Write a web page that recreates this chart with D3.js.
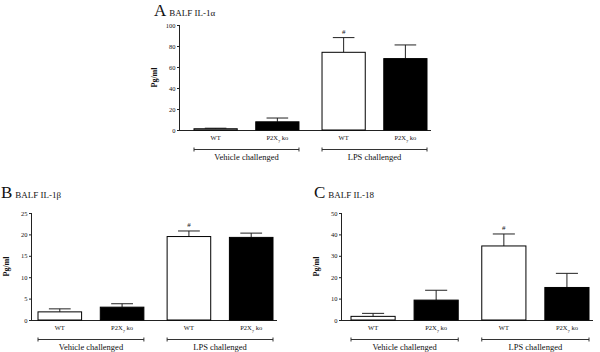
<!DOCTYPE html>
<html>
<head>
<meta charset="utf-8">
<script src="https://cdn.jsdelivr.net/npm/d3@7"></script>
<style>
  body { margin: 0; background: #fff; }
  text { font-family: "Liberation Serif", "DejaVu Serif", serif; fill: #111; }
</style>
</head>
<body>
<svg id="mainsvg" width="600" height="352"></svg>
<script>
// data
const groups = ['Vehicle challenged', 'LPS challenged'];
const genotypes = ['WT', 'P2X7 ko'];

const il1aMean = [1.2, 7.8, 74, 68];
const il1aSem = [0.5, 3.6, 14, 13];
const il1aTicks = [0, 20, 40, 60, 80, 100];

const il1bMean = [1.9, 3.0, 19.5, 19.3];
const il1bSem = [0.7, 0.8, 1.3, 1.0];
const il1bTicks = [0, 5, 10, 15, 20, 25];

const il18Mean = [1.7, 9.3, 34.6, 15.2];
const il18Sem = [1.4, 4.6, 5.6, 6.6];
const il18Ticks = [0, 10, 20, 30, 40, 50];

const svg = d3.select('#mainsvg');

function drawPanel(p){
    const g = svg.append('g');
    const yMax = p.ticks[p.ticks.length - 1];
    const y = d3.scaleLinear().domain([0, yMax]).range([p.y0, p.y1]);

    const xGroup = d3.scaleBand().domain(groups).range([p.x0, p.x1]).paddingInner(0.18);
    const xGeno = d3.scaleBand().domain(genotypes).range([0, xGroup.bandwidth()]).paddingInner(0.3);

    const rows = [];
    groups.forEach((gr, i) => genotypes.forEach((ge, j) => {
        const k = i * 2 + j;
        rows.push({group: gr, geno: ge, mean: p.mean[k], sem: p.sem[k]});
    }));

    // y axis
    const yAxis = g.append('g')
        .attr('transform', `translate(${p.ax},0)`)
        .call(d3.axisLeft(y).tickValues(p.ticks).tickSize(3).tickPadding(1.5));
    yAxis.select('.domain').attr('d', `M-0.5,${p.y0}V${p.y1}`).attr('stroke', '#222');
    yAxis.selectAll('.tick line').attr('stroke', '#222');
    yAxis.selectAll('.tick text')
        .style('font-family', '"Liberation Serif", serif')
        .style('font-size', '6.5px');

    // x axis baseline
    g.append('line')
        .attr('x1', p.ax).attr('x2', p.x1 + 4)
        .attr('y1', p.y0 + 0.5).attr('y2', p.y0 + 0.5)
        .attr('stroke', '#222');

    // error bars (upper only)
    const cx = d => xGroup(d.group) + xGeno(d.geno) + xGeno.bandwidth() / 2;
    const bars = g.selectAll('.bar').data(rows).join('g').attr('class', 'bar');
    bars.append('line')
        .attr('x1', cx).attr('x2', cx)
        .attr('y1', d => y(d.mean)).attr('y2', d => y(d.mean + d.sem))
        .attr('stroke', '#222');
    bars.append('line')
        .attr('x1', d => cx(d) - xGeno.bandwidth() * 0.25)
        .attr('x2', d => cx(d) + xGeno.bandwidth() * 0.25)
        .attr('y1', d => y(d.mean + d.sem)).attr('y2', d => y(d.mean + d.sem))
        .attr('stroke', '#222');

    bars.append('rect')
        .attr('x', d => xGroup(d.group) + xGeno(d.geno))
        .attr('width', xGeno.bandwidth())
        .attr('y', d => y(d.mean))
        .attr('height', d => y(0) - y(d.mean))
        .attr('fill', d => d.geno === 'WT' ? '#fff' : '#000')
        .attr('stroke', '#000')
        .attr('stroke-width', 1);

    // significance mark
    const wtLps = rows[2];
    g.append('text')
        .attr('x', cx(wtLps))
        .attr('y', y(wtLps.mean + wtLps.sem) - 4)
        .attr('text-anchor', 'middle')
        .style('font-size', '7px')
        .text('#');

    // category labels
    const lab = bars.append('text')
        .attr('x', cx)
        .attr('y', p.y0 + 10)
        .attr('text-anchor', 'middle')
        .style('font-size', '6.5px');
    lab.each(function(d){
        const t = d3.select(this);
        if (d.geno === 'WT') { t.text('WT'); return; }
        t.append('tspan').text('P2X');
        t.append('tspan').attr('baseline-shift', 'sub').style('font-size', '4.5px').text('7');
        t.append('tspan').text(' ko');
    });

    // group brackets
    groups.forEach(gr => {
        const a = xGroup(gr), b = xGroup(gr) + xGroup.bandwidth();
        const by = p.y0 + 19.5;
        g.append('path')
            .attr('d', `M${a},${by - 2}V${by + 2}M${a},${by}H${b}M${b},${by - 2}V${by + 2}`)
            .attr('stroke', '#333').attr('fill', 'none');
        g.append('text')
            .attr('x', (a + b) / 2)
            .attr('y', p.y0 + 29.5)
            .attr('text-anchor', 'middle')
            .style('font-size', '8.5px')
            .text(gr);
    });

    // y label
    g.append('text')
        .attr('transform', `translate(${p.ax - 23},${(p.y0 + p.y1) / 2}) rotate(-90)`)
        .attr('text-anchor', 'middle')
        .style('font-size', '8px')
        .style('font-weight', 'bold')
        .text('Pg/ml');

    // panel title
    const title = g.append('text').attr('x', p.tx).attr('y', p.ty);
    title.append('tspan').style('font-size', '17px').text(p.letter);
    title.append('tspan').attr('dx', 3).style('font-size', '9px').text(p.title);
}

drawPanel({letter: 'A', title: 'BALF IL-1α', mean: il1aMean, sem: il1aSem, ticks: il1aTicks,
    ax: 180, x0: 194, x1: 427, y0: 130, y1: 25, tx: 154, ty: 16});
drawPanel({letter: 'B', title: 'BALF IL-1β', mean: il1bMean, sem: il1bSem, ticks: il1bTicks,
    ax: 32, x0: 38, x1: 273, y0: 320, y1: 213, tx: 1, ty: 198});
drawPanel({letter: 'C', title: 'BALF IL-18', mean: il18Mean, sem: il18Sem, ticks: il18Ticks,
    ax: 342, x0: 351, x1: 589, y0: 320, y1: 213, tx: 314, ty: 198});
</script>
</body>
</html>
